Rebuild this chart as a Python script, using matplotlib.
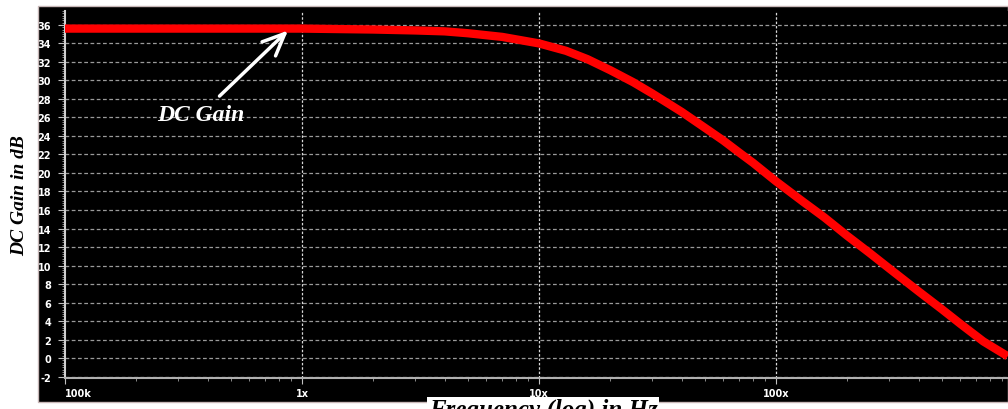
import matplotlib
matplotlib.use("Agg")
import matplotlib.pyplot as plt
from matplotlib.patches import Rectangle
from matplotlib.ticker import MultipleLocator, LogLocator, NullFormatter

# Frequency response
freq_hz = [1e5, 1e6, 2e6, 3e6, 4e6, 5e6, 7e6, 1e7, 1.3e7, 1.6e7, 2e7, 2.5e7,
           3e7, 4e7, 5e7, 6e7, 7e7, 8e7, 1e8, 1.3e8, 1.6e8, 2e8, 2.5e8, 3e8,
           4e8, 5e8, 6e8, 7.5e8, 9.5e8]
gain_db = [35.6, 35.6, 35.5, 35.4, 35.3, 35.1, 34.7, 34.0, 33.2, 32.3, 31.1,
           29.8, 28.6, 26.6, 24.9, 23.5, 22.2, 21.1, 19.1, 16.9, 15.2, 13.2,
           11.3, 9.7, 7.2, 5.3, 3.7, 1.8, 0.2]

x_ticks = [1e5, 1e6, 1e7, 1e8]
x_tick_labels = ["100k", "1x", "10x", "100x"]
y_ticks = list(range(-2, 37, 2))


def main():
    W, H = 1008, 410
    fig = plt.figure(figsize=(W / 100, H / 100), dpi=100, facecolor="white")

    # black panel behind the plot
    fig.patches.append(Rectangle((38 / W, 7 / H), 1 - 38 / W, 396 / H,
                                 transform=fig.transFigure, facecolor="black",
                                 edgecolor="#c8b8b8", lw=1, zorder=-10))

    ax = fig.add_axes([65 / W, (H - 379) / H, (W - 65) / W, 367 / H])
    ax.set_facecolor("black")

    ax.plot(freq_hz, gain_db, color="#ff0000", lw=6, solid_capstyle="butt",
            zorder=3)

    ax.set_xscale("log")
    ax.set_xlim(1e5, 10 ** 8.979)
    ax.set_ylim(-2.15, 37.5)

    # grid
    for v in y_ticks:
        ax.axhline(v, color="#9a9a9a", lw=0.9, ls=(0, (3, 2)), zorder=1)
    for f in x_ticks[1:]:
        ax.axvline(f, color="#d8d8d8", lw=0.9, ls=(0, (2, 1.5)), zorder=1)

    ax.set_yticks(y_ticks)
    ax.set_yticklabels([str(v) for v in y_ticks])
    ax.yaxis.set_minor_locator(MultipleLocator(0.25))
    ax.set_xticks(x_ticks)
    ax.set_xticklabels(x_tick_labels)
    ax.xaxis.set_minor_locator(LogLocator(base=10, subs=range(2, 10)))
    ax.xaxis.set_minor_formatter(NullFormatter())

    ax.tick_params(axis="y", which="major", colors="#c0c0c0", length=5,
                   pad=5, labelsize=7, labelcolor="white")
    ax.tick_params(axis="y", which="minor", colors="#a0a0a0", length=2.5)
    ax.tick_params(axis="x", which="major", colors="#c0c0c0", length=4,
                   pad=3, labelsize=7, labelcolor="white")
    ax.tick_params(axis="x", which="minor", colors="#a0a0a0", length=2)
    for lab in ax.get_xticklabels() + ax.get_yticklabels():
        lab.set_fontweight("bold")
    ax.get_xticklabels()[0].set_horizontalalignment("left")

    for side in ["top", "right"]:
        ax.spines[side].set_visible(False)
    ax.spines["left"].set_color("#d0d0d0")
    ax.spines["left"].set_linewidth(1.5)
    ax.spines["bottom"].set_color("#b0b0b0")
    ax.spines["bottom"].set_linewidth(1.5)
    ax.spines["bottom"].set_linestyle((0, (3, 1)))

    # annotation
    ax.text(2.45e5, 26.3, "DC Gain", color="white", fontsize=17,
            family="Liberation Serif", fontweight="bold", style="italic",
            ha="left", va="center", zorder=5)
    ax.annotate("", xy=(8.9e5, 35.6), xytext=(4.4e5, 28.1),
                arrowprops=dict(arrowstyle="->,head_length=1.6,head_width=0.7",
                                color="white", lw=2.5, mutation_scale=10),
                zorder=5)

    fig.text(20 / W, 0.524, "DC Gain in dB", rotation=90, fontsize=14,
             family="Liberation Serif", fontweight="bold", style="italic",
             ha="center", va="center", color="black")
    fig.text(543 / W, (H - 399) / H, "Frequency (log) in Hz", fontsize=18,
             family="Liberation Serif", fontweight="bold", style="italic",
             ha="center", va="top", color="black",
             bbox=dict(facecolor="white", edgecolor="none", pad=1))

    fig.savefig("out.png", dpi=100, facecolor="white")


if __name__ == "__main__":
    main()
